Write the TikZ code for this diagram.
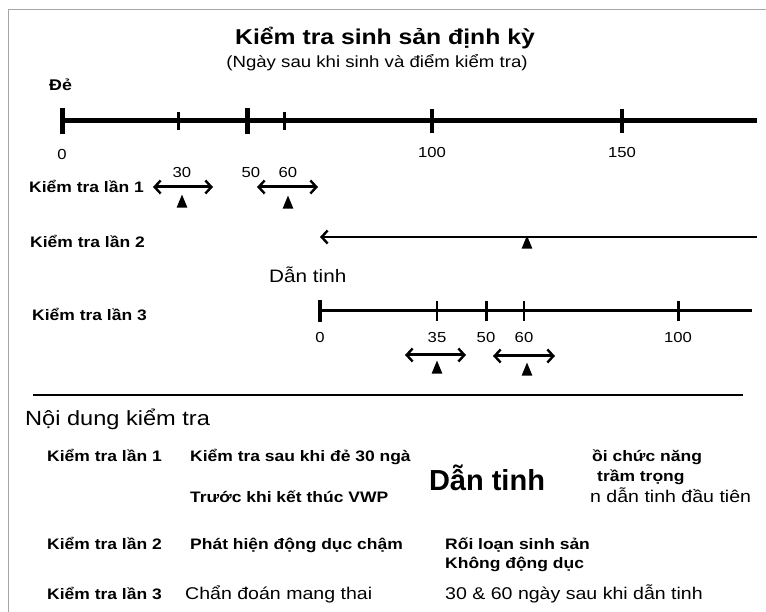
\documentclass[tikz,border=0pt]{standalone}
\usepackage{fontspec}
\setmainfont{Liberation Sans}
\newfontfamily\widefont{Liberation Sans}[FakeStretch=1.15]
\usetikzlibrary{arrows.meta,positioning,shapes.geometric}

\tikzset{
	txt/.style={anchor=base west,inner sep=0pt,font=\widefont\fontsize{17}{19}\selectfont},
	lbl/.style={anchor=base west,inner sep=0pt,font=\widefont\fontsize{15.2}{17}\selectfont\bfseries},
	num/.style={anchor=base,inner sep=0pt,font=\widefont\fontsize{14.5}{16}\selectfont},
	tri/.style={isosceles triangle,isosceles triangle apex angle=45,shape border rotate=90,
		fill=black,inner sep=0pt,minimum height=13pt,minimum width=9pt},
	barb/.tip={Straight Barb[length=6pt,width=13pt,line width=2.4pt]},
	dbl/.style={line width=3pt,barb-barb},
}

\begin{document}
\begin{tikzpicture}[x=1pt,y=-1pt]
	\useasboundingbox (0,0) rectangle (766,612);
	\draw[gray!70,line width=1pt] (766,10) -- (8,10) -- (8,612);
	
	% tieu de
	\node[font=\widefont\fontsize{21.5}{24}\selectfont\bfseries] (tieude) at (385,38) {Kiểm tra sinh sản định kỳ};
	\node[font=\widefont\fontsize{16.2}{18}\selectfont] (phude) at (377,63) {(Ngày sau khi sinh và điểm kiểm tra)};
	\node[lbl,font=\widefont\fontsize{15.5}{17}\selectfont\bfseries] (de) at (49,91) {Đẻ};
	
	% truc chinh
	\coordinate (a0) at (60,121);
	\coordinate (aend) at (757,121);
	\draw[line width=5pt] (a0) -- (aend);
	\foreach \x/\h/\w in {62/13/5,178/9/3,247/13/5,284/9/3,432/12/4.5,622/12/4.5}
		\draw[line width=\w pt] (\x,121-\h) -- (\x,121+\h);
	\node[num] (n0) at (62,160) {0};
	\node[num] (n100) at (432,158) {100};
	\node[num] (n150) at (622,158) {150};
	
	% kiem tra lan 1
	\node[lbl] (lan1) at (29,193) {Kiểm tra lần 1};
	\node[num] (n30) at (182,178) {30};
	\node[num] (n50) at (251,178) {50};
	\node[num] (n60) at (288,178) {60};
	\coordinate (p1a) at (153,187);
	\coordinate (p1b) at (213,187);
	\coordinate (p2a) at (257,187);
	\coordinate (p2b) at (318,187);
	\draw[dbl] (p1a) -- (p1b);
	\draw[dbl] (p2a) -- (p2b);
	\node[tri] (m30) at (182,204) {};
	\node[tri] (m60) at (288,205) {};
	
	% kiem tra lan 2
	\node[lbl] (lan2) at (30,248) {Kiểm tra lần 2};
	\coordinate (q0) at (757,237);
	\coordinate (q1) at (320,237);
	\draw[line width=2.6pt,-barb] (q0) -- (q1);
	\node[tri] (m2) at (527,245) {};
	
	% kiem tra lan 3
	\node[txt,font=\widefont\fontsize{18}{20}\selectfont] (dantinh) at (269,283) {Dẫn tinh};
	\node[lbl] (lan3) at (32,321) {Kiểm tra lần 3};
	\coordinate (b0) at (319,311);
	\coordinate (bend) at (752,311);
	\draw[line width=3pt] (b0) -- (bend);
	\foreach \x/\h/\w in {320/11/4,437/10/2.5,486/10/3,524/10/2.5,678/10/3}
		\draw[line width=\w pt] (\x,311-\h) -- (\x,311+\h);
	\node[num] (b0l) at (320,343) {0};
	\node[num] (b35) at (437,343) {35};
	\node[num] (b50) at (486,343) {50};
	\node[num] (b60) at (524,343) {60};
	\node[num] (b100) at (678,343) {100};
	\coordinate (r1a) at (405,355);
	\coordinate (r1b) at (466,355);
	\coordinate (r2a) at (493,356);
	\coordinate (r2b) at (555,356);
	\draw[dbl] (r1a) -- (r1b);
	\draw[dbl] (r2a) -- (r2b);
	\node[tri] (m35) at (437,370) {};
	\node[tri] (m3b) at (527,372) {};
	
	\coordinate (s0) at (33,395);
	\coordinate (s1) at (743,395);
	\draw[line width=1.5pt] (s0) -- (s1);
	
	% noi dung kiem tra
	\node[txt,font=\widefont\fontsize{20.5}{23}\selectfont] (noidung) at (25,425) {Nội dung kiểm tra};
	\node[lbl] (c1) at (47,461) {Kiểm tra lần 1};
	\node[lbl] (c1a) at (190,461) {Kiểm tra sau khi đẻ 30 ngà};
	\node[lbl] (c1b) at (190,502) {Trước khi kết thúc VWP};
	\node[lbl] (c1c) at (592,461) {ồi chức năng};
	\node[lbl] (c1d) at (597,481) {trầm trọng};
	\node[txt] (c1e) at (590,502) {n dẫn tinh đầu tiên};
	\node[anchor=base,inner sep=0pt,font=\fontsize{29}{32}\selectfont\bfseries] (dtbig) at (487,490) {Dẫn tinh};
	
	\node[lbl] (c2) at (47,549) {Kiểm tra lần 2};
	\node[lbl] (c2a) at (190,549) {Phát hiện động dục chậm};
	\node[lbl] (c2b) at (445,549) {Rối loạn sinh sản};
	\node[lbl] (c2c) at (445,568) {Không động dục};
	
	\node[lbl] (c3) at (47,599) {Kiểm tra lần 3};
	\node[txt] (c3a) at (185,599) {Chẩn đoán mang thai};
	\node[txt] (c3b) at (445,599) {30 \& 60 ngày sau khi dẫn tinh};
\end{tikzpicture}
\end{document}
